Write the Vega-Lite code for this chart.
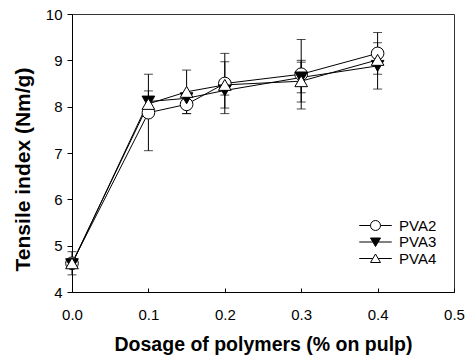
{
  "$schema": "https://vega.github.io/schema/vega-lite/v6.json",
  "width": 382,
  "height": 278,
  "autosize": "none",
  "padding": {"left": 72, "top": 14, "right": 20, "bottom": 68},
  "background": "white",
  "config": {
    "font": "Liberation Sans",
    "view": {"stroke": "#333333", "strokeWidth": 1},
    "axis": {"grid": false, "domainColor": "black", "tickColor": "black", "labelColor": "black", "titleColor": "black", "labelFontSize": 15, "titleFontWeight": "bold", "labelFlush": false, "labelOverlap": false}
  },
  "data": {
    "values": [
      {"series": "PVA2", "x": 0.0, "y": 4.62, "lo": 4.37, "hi": 4.87},
      {"series": "PVA2", "x": 0.1, "y": 7.87, "lo": 7.05, "hi": 8.70},
      {"series": "PVA2", "x": 0.15, "y": 8.05, "lo": 7.85, "hi": 8.25},
      {"series": "PVA2", "x": 0.2, "y": 8.50, "lo": 7.85, "hi": 9.15},
      {"series": "PVA2", "x": 0.3, "y": 8.70, "lo": 7.95, "hi": 9.45},
      {"series": "PVA2", "x": 0.4, "y": 9.15, "lo": 8.70, "hi": 9.60},
      {"series": "PVA3", "x": 0.0, "y": 4.60, "lo": 4.52, "hi": 4.68},
      {"series": "PVA3", "x": 0.1, "y": 8.11, "lo": 7.88, "hi": 8.34},
      {"series": "PVA3", "x": 0.15, "y": 8.18, "lo": 8.08, "hi": 8.28},
      {"series": "PVA3", "x": 0.2, "y": 8.35, "lo": 8.25, "hi": 8.45},
      {"series": "PVA3", "x": 0.3, "y": 8.63, "lo": 8.30, "hi": 8.96},
      {"series": "PVA3", "x": 0.4, "y": 8.88, "lo": 8.38, "hi": 9.38},
      {"series": "PVA4", "x": 0.0, "y": 4.62, "lo": 4.52, "hi": 4.72},
      {"series": "PVA4", "x": 0.1, "y": 8.06, "lo": 7.93, "hi": 8.19},
      {"series": "PVA4", "x": 0.15, "y": 8.32, "lo": 7.85, "hi": 8.79},
      {"series": "PVA4", "x": 0.2, "y": 8.47, "lo": 7.97, "hi": 8.97},
      {"series": "PVA4", "x": 0.3, "y": 8.55, "lo": 8.10, "hi": 9.00},
      {"series": "PVA4", "x": 0.4, "y": 9.01, "lo": 8.91, "hi": 9.11}
    ]
  },
  "encoding": {
    "x": {
      "field": "x", "type": "quantitative",
      "scale": {"domain": [0, 0.5], "nice": false, "zero": false},
      "axis": {"title": "Dosage of polymers (% on pulp)", "titleFontSize": 19.5, "values": [0, 0.1, 0.2, 0.3, 0.4, 0.5], "format": ".1f", "tickSize": -4, "labelPadding": 19, "titlePadding": 13}
    }
  },
  "layer": [
    {
      "mark": {"type": "errorbar", "ticks": {"size": 9, "color": "black"}, "rule": {"color": "black", "strokeWidth": 1}},
      "encoding": {
        "y": {"field": "lo", "type": "quantitative", "scale": {"domain": [4, 10], "nice": false, "zero": false},
          "axis": {"title": "Tensile index (Nm/g)", "titleFontSize": 21, "values": [4, 5, 6, 7, 8, 9, 10], "tickSize": 5, "labelPadding": 5, "titlePadding": 12, "titleY": 155}},
        "y2": {"field": "hi"},
        "detail": {"field": "series"}
      }
    },
    {
      "mark": {"type": "line", "color": "black", "strokeWidth": 1},
      "encoding": {
        "y": {"field": "y", "type": "quantitative", "scale": {"domain": [4, 10], "nice": false, "zero": false},
          "axis": {"title": "Tensile index (Nm/g)", "titleFontSize": 21, "values": [4, 5, 6, 7, 8, 9, 10], "tickSize": 5, "labelPadding": 5, "titlePadding": 12, "titleY": 155}},
        "detail": {"field": "series"}
      }
    },
    {
      "mark": {"type": "point", "filled": true, "stroke": "black", "strokeWidth": 1, "size": 160, "opacity": 1},
      "encoding": {
        "y": {"field": "y", "type": "quantitative"},
        "shape": {"condition": [{"test": "datum.series === 'PVA2'", "value": "circle"}, {"test": "datum.series === 'PVA3'", "value": "triangle-down"}], "value": "triangle-up"},
        "fill": {"condition": {"test": "datum.series === 'PVA3'", "value": "black"}, "value": "white"}
      }
    },
    {
      "transform": [{"filter": "false"}],
      "mark": {"type": "point", "filled": true, "strokeWidth": 1, "size": 144, "opacity": 1},
      "encoding": {
        "y": {"field": "y", "type": "quantitative"},
        "shape": {
          "field": "series", "type": "nominal",
          "scale": {"domain": ["PVA2", "PVA3", "PVA4"], "range": [
            "M1,0A1,1,0,1,1,-1,0A1,1,0,1,1,1,0Z M-3.25,0H-1 M1,0H3.25",
            "M-1,-0.8L1,-0.8L0,0.9Z M-3.25,0H-0.53 M0.53,0H3.25",
            "M0,-0.9L1,0.8L-1,0.8Z M-3.25,0H-0.53 M0.53,0H3.25"
          ]},
          "legend": {"title": null, "orient": "none", "legendX": 296, "legendY": 204, "padding": 0, "labelFontSize": 15, "labelColor": "black", "labelOffset": 16, "rowPadding": 0.5, "symbolStrokeWidth": 1}
        },
        "fill": {
          "field": "series", "type": "nominal",
          "scale": {"domain": ["PVA2", "PVA3", "PVA4"], "range": ["white", "black", "white"]},
          "legend": {"title": null, "orient": "none", "legendX": 296, "legendY": 204, "padding": 0, "labelFontSize": 15, "labelColor": "black", "labelOffset": 16, "rowPadding": 0.5, "symbolStrokeWidth": 1}
        },
        "stroke": {
          "field": "series", "type": "nominal",
          "scale": {"domain": ["PVA2", "PVA3", "PVA4"], "range": ["black", "black", "black"]},
          "legend": {"title": null, "orient": "none", "legendX": 296, "legendY": 204, "padding": 0, "labelFontSize": 15, "labelColor": "black", "labelOffset": 16, "rowPadding": 0.5, "symbolStrokeWidth": 1}
        }
      }
    }
  ]
}
